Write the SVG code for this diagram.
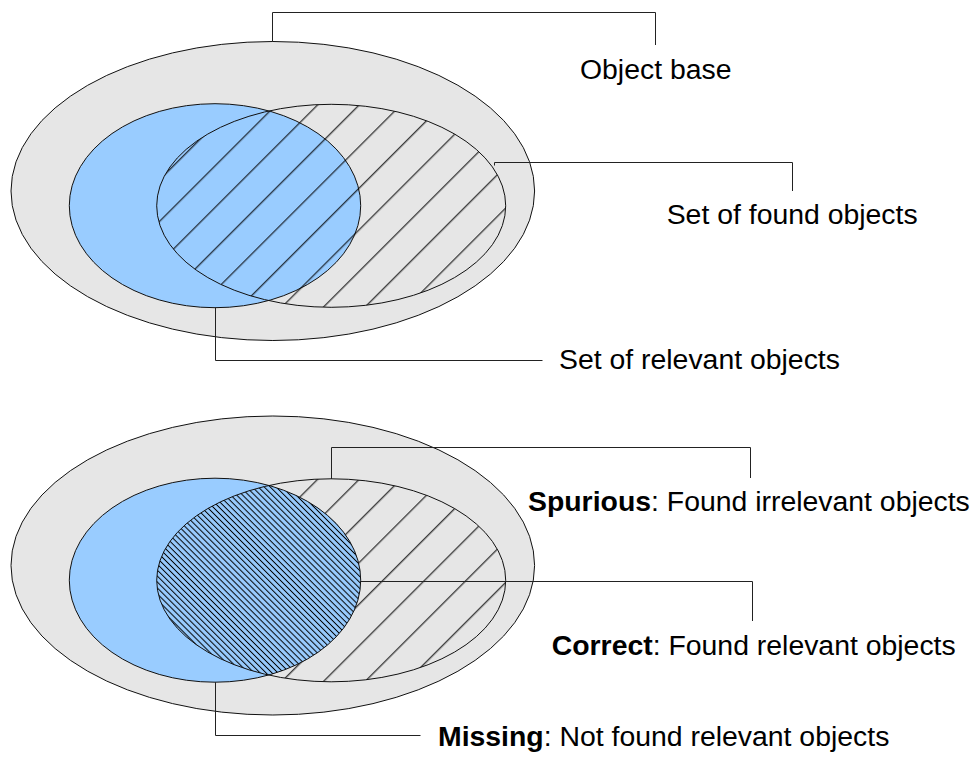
<svg xmlns="http://www.w3.org/2000/svg" width="980" height="757" viewBox="0 0 980 757">
  <style>
    .base { fill: #e6e6e6; stroke: #111; stroke-width: 1; }
    .rel-fill { fill: #99ccff; stroke: none; }
    .found-fill { fill: url(#hatchFwd); stroke: none; }
    .outline { fill: none; stroke: #111; stroke-width: 1; }
    .both-fill { fill: #99ccff; stroke: none; }
    .both-hatch { fill: url(#hatchBack); stroke: none; }
    .conn { fill: none; stroke: #222; stroke-width: 1; }
    .label { font-family: "Liberation Sans", Arial, sans-serif; font-size: 28.4px; fill: #000; }
    .label .b { font-weight: bold; }
  </style>
  <defs>
    <!-- wide "/" hatch for the set of found objects -->
    <pattern id="hatchFwd" patternUnits="userSpaceOnUse" width="29.416" height="29.416" patternTransform="rotate(45)">
      <line x1="4.67" y1="-2" x2="4.67" y2="32" stroke="#000" stroke-width="1"/>
    </pattern>
    <!-- dense "\" hatch for found relevant objects -->
    <pattern id="hatchBack" patternUnits="userSpaceOnUse" width="4.2" height="4.2" patternTransform="rotate(-45)">
      <line x1="2.1" y1="-1" x2="2.1" y2="6" stroke="#000" stroke-width="1"/>
    </pattern>
    <clipPath id="clipRelBottom">
      <ellipse cx="215" cy="580.2" rx="145.7" ry="102"/>
    </clipPath>
  </defs>

  <!-- upper diagram -->
  <g id="top-object-base">
    <ellipse class="base" cx="272.8" cy="191" rx="261.8" ry="149.5"/>
  </g>
  <g id="top-relevant">
    <ellipse class="rel-fill" cx="215" cy="205.7" rx="145.7" ry="102"/>
    <ellipse class="outline" cx="215" cy="205.7" rx="145.7" ry="102"/>
  </g>
  <g id="top-found">
    <ellipse class="found-fill" cx="331.2" cy="205.8" rx="174.5" ry="101.5"/>
    <ellipse class="outline" cx="331.2" cy="205.8" rx="174.5" ry="101.5"/>
  </g>

  <!-- lower diagram -->
  <g id="bottom-object-base">
    <ellipse class="base" cx="272.8" cy="565.5" rx="261.8" ry="149.5"/>
  </g>
  <g id="bottom-missing">
    <ellipse class="rel-fill" cx="215" cy="580.2" rx="145.7" ry="102"/>
  </g>
  <g id="bottom-spurious">
    <ellipse class="found-fill" cx="331.2" cy="580.3" rx="174.5" ry="101.5"/>
  </g>
  <g id="bottom-correct">
    <ellipse class="both-fill" clip-path="url(#clipRelBottom)" cx="331.2" cy="580.3" rx="174.5" ry="101.5"/>
    <ellipse class="both-hatch" clip-path="url(#clipRelBottom)" cx="331.2" cy="580.3" rx="174.5" ry="101.5"/>
    <ellipse class="outline" cx="215" cy="580.2" rx="145.7" ry="102"/>
    <ellipse class="outline" cx="331.2" cy="580.3" rx="174.5" ry="101.5"/>
  </g>

  <!-- leader lines -->
  <g id="connectors">
    <polyline class="conn" points="272.5,41.5 272.5,12.5 655.5,12.5 655.5,45"/>
    <polyline class="conn" points="494.5,165.5 494.5,162.5 792.5,162.5 792.5,191"/>
    <polyline class="conn" points="215.5,307.7 215.5,360.5 542.5,360.5"/>
    <polyline class="conn" points="331.5,479 331.5,447.5 750.5,447.5 750.5,478"/>
    <polyline class="conn" points="360.7,581.5 752.5,581.5 752.5,621"/>
    <polyline class="conn" points="215.5,682.2 215.5,735.5 420.5,735.5"/>
  </g>

  <!-- labels -->
  <g id="label-object-base"><text class="label" x="580" y="78.5">Object base</text></g>
  <g id="label-found"><text class="label" x="666.7" y="224">Set of found objects</text></g>
  <g id="label-relevant"><text class="label" x="559" y="368.5">Set of relevant objects</text></g>
  <g id="label-spurious"><text class="label" x="528" y="510.7"><tspan class="b">Spurious</tspan>: Found irrelevant objects</text></g>
  <g id="label-correct"><text class="label" x="551.7" y="655"><tspan class="b">Correct</tspan>: Found relevant objects</text></g>
  <g id="label-missing"><text class="label" x="438" y="746"><tspan class="b">Missing</tspan>: Not found relevant objects</text></g>
</svg>
